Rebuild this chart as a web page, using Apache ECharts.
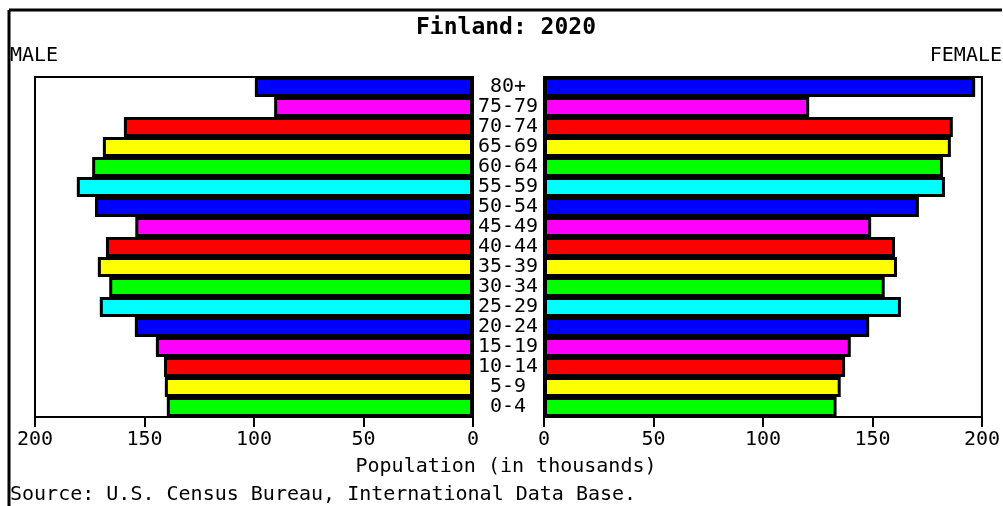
<!DOCTYPE html>
<html>
<head>
<meta charset="utf-8">
<script src="https://cdn.jsdelivr.net/npm/echarts@6/dist/echarts.min.js"></script>
<style>
  html, body { margin: 0; padding: 0; background: #fff; }
  #chart { width: 1003px; height: 506px; }
</style>
</head>
<body>
<div id="chart"></div>
<script>
// age groups, bottom to top
const ageGroups = ["0-4", "5-9", "10-14", "15-19", "20-24", "25-29", "30-34", "35-39",
  "40-44", "45-49", "50-54", "55-59", "60-64", "65-69", "70-74", "75-79", "80+"];
// population in thousands
const male = [139.8, 140.7, 141.1, 144.8, 154.4, 170.4, 166.1, 171.3,
  167.6, 154.2, 172.6, 180.9, 173.9, 169.0, 159.4, 90.8, 99.6];
const female = [133.6, 135.5, 137.5, 140.1, 148.5, 163.0, 155.6, 161.2,
  160.3, 149.4, 171.2, 183.1, 182.2, 185.8, 186.7, 121.1, 196.9];
const tickValues = [0, 50, 100, 150, 200];

const palette = ["#00ff00", "#ffff00", "#ff0000", "#ff00ff", "#0000ff", "#00ffff"];
const font = "'DejaVu Sans Mono', 'Liberation Mono', monospace";

const chart = echarts.init(document.getElementById("chart"), null, { renderer: "canvas" });

function barData(values) {
  return values.map((v, i) => ({
    value: v,
    itemStyle: { color: palette[i % palette.length] }
  }));
}

function xAxisCfg(gridIndex, inverse) {
  return {
    type: "value",
    gridIndex: gridIndex,
    min: 0,
    max: 200,
    interval: 50,
    inverse: inverse,
    axisLine: { show: true, onZero: false, lineStyle: { color: "#000", width: 2 } },
    axisTick: { show: true, length: 10, lineStyle: { color: "#000", width: 2 } },
    axisLabel: {
      margin: 13,
      color: "#000",
      fontFamily: font,
      fontSize: 20,
      formatter: v => (tickValues.indexOf(v) >= 0 ? String(v) : "")
    },
    splitLine: { show: false }
  };
}

const option = {
  backgroundColor: "#fff",
  animation: false,
  grid: [
    { left: 35, right: 530, top: 77, bottom: 89, show: true, borderColor: "#000", borderWidth: 2, backgroundColor: "#fff" },
    { left: 544, right: 20, top: 77, bottom: 89, show: true, borderColor: "#000", borderWidth: 2, backgroundColor: "#fff" }
  ],
  xAxis: [xAxisCfg(0, true), xAxisCfg(1, false)],
  yAxis: [
    {
      type: "category",
      gridIndex: 0,
      data: ageGroups,
      position: "right",
      axisLine: { show: false },
      axisTick: { show: false },
      axisLabel: {
        interval: 0,
        align: "center",
        margin: 35,
        color: "#000",
        fontFamily: font,
        fontSize: 20
      }
    },
    {
      type: "category",
      gridIndex: 1,
      data: ageGroups,
      axisLine: { show: false },
      axisTick: { show: false },
      axisLabel: { show: false }
    }
  ],
  series: [
    {
      name: "Male",
      type: "bar",
      xAxisIndex: 0,
      yAxisIndex: 0,
      barCategoryGap: "0%",
      itemStyle: { borderColor: "#000", borderWidth: 3 },
      data: barData(male)
    },
    {
      name: "Female",
      type: "bar",
      xAxisIndex: 1,
      yAxisIndex: 1,
      barCategoryGap: "0%",
      itemStyle: { borderColor: "#000", borderWidth: 3 },
      data: barData(female)
    }
  ],
  graphic: [
    { type: "line", shape: { x1: 9, y1: 10, x2: 1002, y2: 10 }, style: { stroke: "#000", lineWidth: 3 } },
    { type: "line", shape: { x1: 9, y1: 10, x2: 9, y2: 506 }, style: { stroke: "#000", lineWidth: 3 } },
    {
      type: "text", x: 506, y: 28,
      style: { text: "Finland: 2020", font: "bold 23px " + font, fill: "#000", textAlign: "center", textVerticalAlign: "middle" }
    },
    {
      type: "text", x: 10, y: 56,
      style: { text: "MALE", font: "20px " + font, fill: "#000", textAlign: "left", textVerticalAlign: "middle" }
    },
    {
      type: "text", x: 1002, y: 56,
      style: { text: "FEMALE", font: "20px " + font, fill: "#000", textAlign: "right", textVerticalAlign: "middle" }
    },
    {
      type: "text", x: 506, y: 467,
      style: { text: "Population (in thousands)", font: "20px " + font, fill: "#000", textAlign: "center", textVerticalAlign: "middle" }
    },
    {
      type: "text", x: 10, y: 495,
      style: { text: "Source: U.S. Census Bureau, International Data Base.", font: "20px " + font, fill: "#000", textAlign: "left", textVerticalAlign: "middle" }
    }
  ]
};

chart.setOption(option);
</script>
</body>
</html>
